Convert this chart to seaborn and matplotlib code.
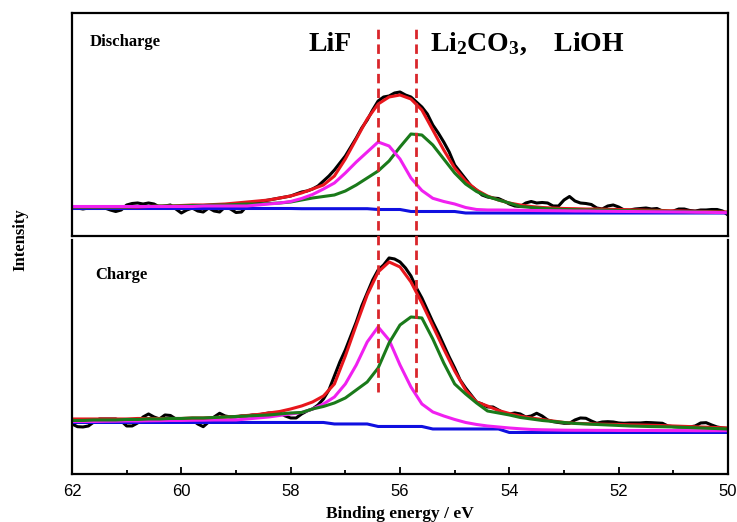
import numpy as np
import pandas as pd
import matplotlib
matplotlib.use("Agg")
import matplotlib.pyplot as plt
import matplotlib.transforms as mtransforms
from matplotlib.lines import Line2D
import seaborn as sns

# ---------------- data ----------------
be_fine = [62.0, 61.9, 61.8, 61.7, 61.6, 61.5, 61.4, 61.3, 61.2, 61.1,
           61.0, 60.9, 60.8, 60.7, 60.6, 60.5, 60.4, 60.3, 60.2, 60.1,
           60.0, 59.9, 59.8, 59.7, 59.6, 59.5, 59.4, 59.3, 59.2, 59.1,
           59.0, 58.9, 58.8, 58.7, 58.6, 58.5, 58.4, 58.3, 58.2, 58.1,
           58.0, 57.9, 57.8, 57.7, 57.6, 57.5, 57.4, 57.3, 57.2, 57.1,
           57.0, 56.9, 56.8, 56.7, 56.6, 56.5, 56.4, 56.3, 56.2, 56.1,
           56.0, 55.9, 55.8, 55.7, 55.6, 55.5, 55.4, 55.3, 55.2, 55.1,
           55.0, 54.9, 54.8, 54.7, 54.6, 54.5, 54.4, 54.3, 54.2, 54.1,
           54.0, 53.9, 53.8, 53.7, 53.6, 53.5, 53.4, 53.3, 53.2, 53.1,
           53.0, 52.9, 52.8, 52.7, 52.6, 52.5, 52.4, 52.3, 52.2, 52.1,
           52.0, 51.9, 51.8, 51.7, 51.6, 51.5, 51.4, 51.3, 51.2, 51.1,
           51.0, 50.9, 50.8, 50.7, 50.6, 50.5, 50.4, 50.3, 50.2, 50.1,
           50.0]

be_coarse = [62.0, 61.8, 61.6, 61.4, 61.2, 61.0, 60.8, 60.6, 60.4, 60.2,
             60.0, 59.8, 59.6, 59.4, 59.2, 59.0, 58.8, 58.6, 58.4, 58.2,
             58.0, 57.8, 57.6, 57.4, 57.2, 57.0, 56.8, 56.6, 56.4, 56.2,
             56.0, 55.8, 55.6, 55.4, 55.2, 55.0, 54.8, 54.6, 54.4, 54.2,
             54.0, 53.8, 53.6, 53.4, 53.2, 53.0, 52.8, 52.6, 52.4, 52.2,
             52.0, 51.8, 51.6, 51.4, 51.2, 51.0, 50.8, 50.6, 50.4, 50.2,
             50.0]

# Discharge panel
dis_raw = [29, 28, 27, 28, 29, 29, 28, 26, 24.5, 26,
           31, 32.5, 33, 32, 33, 32, 29, 30, 31, 27,
           23, 26, 28, 25, 24, 28, 25, 24, 29, 27,
           23.5, 24, 30, 33, 34, 35, 36, 37, 38, 39,
           40, 42, 44, 45, 47, 50, 55, 60, 66, 73,
           80, 89, 98, 108, 116, 126, 135, 139, 140, 143,
           144, 141, 139, 134, 129, 122, 111, 103, 94, 84,
           71, 64, 57, 50, 46, 41, 39, 38, 37.5, 35,
           32, 30, 29.5, 33, 34.5, 33, 33.5, 33, 30, 30,
           36, 39.5, 35, 33, 32.5, 31.5, 28, 27, 30, 31,
           29, 26, 26, 27, 27.5, 28, 27, 27.5, 25, 24,
           25, 27, 27, 25.5, 25, 26, 26, 26.5, 26.5, 25,
           21]
dis_fit = [29, 29, 29, 29, 29, 29, 29, 29.5, 30, 30,
           30.5, 31, 31, 31.5, 32, 33, 34, 35, 36, 38,
           40, 43, 47, 51, 60, 77, 97, 117, 132, 139,
           141, 137, 126, 106, 86, 68, 55, 46, 40, 36,
           33, 31, 29.5, 28.5, 28, 27.5, 27.3, 27, 27, 26.7,
           26.5, 26.2, 26, 25.7, 25.5, 25.2, 25, 24.7, 24.5, 24.2,
           24]
dis_li2co3 = [29, 29, 29, 29, 29, 29, 29.5, 29.5, 30, 30,
              30, 30.5, 30.5, 31, 31, 31.5, 32, 32, 32.5, 33,
              34, 36, 38, 39.5, 41, 45, 51, 58, 65, 75,
              89, 102, 101, 91, 77, 63, 52, 44.5, 39.5, 36,
              33, 29.5, 28.5, 27.7, 27, 26.5, 26.3, 26, 26, 25.8,
              25.5, 25.3, 25, 25, 24.8, 24.5, 24.3, 24.2, 24, 23.8,
              23.5]
dis_lif = [29.5, 29.5, 29.5, 29.5, 29.5, 29.5, 29.5, 29.5, 29.5, 29.5,
           29.5, 29.5, 30, 30, 30, 30, 30, 31, 32, 33,
           34.5, 37.5, 41.5, 47, 53, 63, 74, 84, 94, 90,
           77, 58, 45.5, 37.7, 34.5, 32, 28.5, 26.5, 26, 26,
           25.8, 25.7, 25.5, 25.4, 25.3, 25.2, 25, 25, 24.8, 24.7,
           24.6, 24.5, 24.4, 24.3, 24.2, 24.1, 24, 23.8, 23.7, 23.5,
           23.3]
dis_bg = [27.5, 27.5, 27.5, 27.5, 27.5, 27.5, 27.5, 27.5, 27.5, 27.5,
          27.5, 27.5, 27.5, 27.5, 27.5, 27.5, 27.5, 27.5, 27.5, 27.5,
          27.5, 27.3, 27.3, 27.3, 27.3, 27.3, 27.3, 27.3, 26.5, 26.5,
          26.5, 24.5, 24.5, 24.5, 24.5, 24.5, 23, 23, 23, 23,
          23, 23, 23, 23, 23, 23, 23, 23, 23, 23,
          23, 23, 23, 23, 23, 23, 23, 23, 23, 23,
          23]

# Charge panel
chg_raw = [50, 47.3, 47, 48, 52, 55, 55, 55, 55, 53,
           48, 48, 51, 57, 60, 57, 55, 59, 58.5, 55,
           55, 55, 54, 50, 47.3, 52, 57, 60.7, 58, 57,
           57, 58, 58, 59, 59, 60, 61, 61, 61, 58,
           56, 56, 60, 63, 65, 69, 75, 84, 98, 112,
           124, 138, 152, 168, 181, 194, 204, 209, 216, 215,
           212, 206, 198, 186, 176, 164, 152, 141, 129, 117,
           106, 94, 86, 79, 72, 70, 67, 67, 64, 61,
           60, 61, 60, 57, 58, 60.7, 58, 54, 52.3, 51.5,
           50.7, 50.7, 54, 56, 55.7, 53, 50.7, 52, 52.3, 52,
           51, 50.7, 51, 51, 51, 51.5, 51.3, 51, 50.7, 48,
           47.3, 47, 47, 47, 48, 51, 51.3, 49, 47, 46,
           45.5]
chg_fit = [55, 55, 55, 55, 55, 55, 55.5, 55.5, 55.5, 55.5,
           55.5, 56, 56, 56.5, 57, 57.5, 58.5, 59.5, 61, 62.5,
           65, 68, 72, 78, 90, 118, 149, 179, 202, 212,
           207, 192, 171, 148, 125, 103, 84, 72, 68, 63.5,
           60.5, 58, 56, 54.5, 53, 51.5, 50.7, 50.3, 50, 49.7,
           49.5, 49.2, 49, 48.7, 48.4, 48, 47.6, 47.2, 46.8, 46.4,
           46]
chg_li2co3 = [53.5, 53.5, 54, 54, 54, 54.5, 54.5, 55, 55, 55.5,
              55.5, 56, 56, 56.5, 57, 57.5, 58, 58.5, 59, 60,
              61, 61.5, 65, 67.5, 71, 76, 84, 92, 106, 131,
              149, 157, 156, 135, 111, 90, 80, 71, 63, 61,
              59, 56.5, 55, 53.5, 52.5, 51.5, 50.5, 50, 49.5, 49,
              48.5, 48, 47.7, 47.4, 47.2, 47, 46.6, 46.2, 45.8, 45.4,
              45]
chg_lif = [52.5, 52.5, 52.5, 52.7, 52.8, 53, 53, 53.2, 53.3, 53.5,
           53.5, 53.7, 53.8, 54, 54, 54, 55, 56, 57, 58.5,
           60, 61.5, 65, 70, 77, 90, 109, 132, 147, 134,
           109, 87, 70, 62, 58, 54.5, 51.5, 49.5, 48, 47,
           46, 45.2, 44.5, 44.2, 44, 43.8, 43.7, 43.7, 43.6, 43.6,
           43.5, 43.5, 43.5, 43.5, 43.4, 43.4, 43.4, 43.3, 43.3, 43.3,
           43.3]
chg_bg = [51.5, 51.5, 51.5, 51.5, 51.5, 51.5, 51.5, 51.5, 51.5, 51.5,
          51.5, 51.5, 51.5, 51.5, 51.5, 51.5, 51.5, 51.5, 51.5, 51.5,
          51.5, 51.5, 51.5, 51.5, 50, 50, 50, 50, 47.5, 47.5,
          47.5, 47.5, 47.5, 45, 45, 45, 45, 45, 45, 45,
          41.5, 41.5, 41.5, 41.5, 41.5, 41.5, 41.5, 41.5, 41.5, 41.5,
          41.5, 41.5, 41.5, 41.5, 41.5, 41.5, 41.5, 41.5, 41.5, 41.5,
          41.5]

ref_lines = [56.4, 55.7]          # LiF and Li2CO3/LiOH positions
major_ticks = [62, 60, 58, 56, 54, 52, 50]
minor_ticks = [61, 59, 57, 55, 53, 51]
tick_labels = ["62", "60", "58", "56", "54", "52", "50"]

# ---------------- style ----------------
sns.set_theme(style="white")
plt.rcParams["font.family"] = ["Liberation Serif", "DejaVu Serif"]
plt.rcParams["text.color"] = "black"
plt.rcParams["axes.labelcolor"] = "black"
plt.rcParams["xtick.color"] = "black"
plt.rcParams["mathtext.fontset"] = "custom"
plt.rcParams["mathtext.rm"] = "Liberation Serif:bold"
plt.rcParams["mathtext.it"] = "Liberation Serif:bold"
plt.rcParams["mathtext.bf"] = "Liberation Serif:bold"
plt.rcParams["mathtext.default"] = "rm"

colors = {"Raw": "#000000", "Background": "#1010e0", "Fit": "#e8161c",
          "LiF": "#f020f0", "Li2CO3/LiOH": "#1a7a1a"}


def panel_frame(raw, fit, li2co3, lif, bg):
    parts = [
        pd.DataFrame({"BE": be_fine, "I": raw, "curve": "Raw"}),
        pd.DataFrame({"BE": be_coarse, "I": bg, "curve": "Background"}),
        pd.DataFrame({"BE": be_coarse, "I": fit, "curve": "Fit"}),
        pd.DataFrame({"BE": be_coarse, "I": lif, "curve": "LiF"}),
        pd.DataFrame({"BE": be_coarse, "I": li2co3, "curve": "Li2CO3/LiOH"}),
    ]
    return pd.concat(parts, ignore_index=True)


fig = plt.figure(figsize=(7.37, 5.22), dpi=100)
ax_top = fig.add_axes([0.0977, 0.5479, 0.8901, 0.4272])
ax_bot = fig.add_axes([0.0977, 0.0920, 0.8901, 0.4483])

df_top = panel_frame(dis_raw, dis_fit, dis_li2co3, dis_lif, dis_bg)
df_bot = panel_frame(chg_raw, chg_fit, chg_li2co3, chg_lif, chg_bg)

sns.lineplot(data=df_top, x="BE", y="I", hue="curve",
             hue_order=["Raw", "Background", "Fit", "Li2CO3/LiOH", "LiF"],
             palette=colors, estimator=None, sort=False, legend=False,
             linewidth=2.2, ax=ax_top)
sns.lineplot(data=df_bot, x="BE", y="I", hue="curve",
             hue_order=["Raw", "Background", "LiF", "Fit", "Li2CO3/LiOH"],
             palette=colors, estimator=None, sort=False, legend=False,
             linewidth=2.2, ax=ax_bot)

for ax, ymax in ((ax_top, 223), (ax_bot, 234)):
    ax.set_xlim(62, 50)
    ax.set_ylim(0, ymax)
    ax.set_ylabel("")
    ax.set_xlabel("")
    ax.set_yticks([])
    for s in ax.spines.values():
        s.set_color("black")
        s.set_linewidth(1.6)

ax_top.set_xticks([])
ax_bot.spines["top"].set_visible(False)

ax_bot.set_xticks(major_ticks)
ax_bot.set_xticks(minor_ticks, minor=True)
ax_bot.set_xticklabels(tick_labels, fontsize=12,
                       family=["Liberation Sans Narrow", "Liberation Sans"])
ax_bot.tick_params(axis="x", which="major", direction="in", length=5,
                   width=1.3, pad=7, bottom=True, top=False)
ax_bot.tick_params(axis="x", which="minor", direction="in", length=3,
                   width=1.3, bottom=True, top=False)
ax_bot.set_xlabel("Binding energy / eV", fontsize=12.5, fontweight="bold",
                  labelpad=5)

ax_top.text(0.027, 0.87, "Discharge", transform=ax_top.transAxes,
            fontsize=12, fontweight="bold", va="center", ha="left")
ax_top.text(0.361, 0.83, "LiF", transform=ax_top.transAxes,
            fontsize=20, fontweight="bold", va="baseline", ha="left")
ax_top.text(0.546, 0.83, r"Li$_{2}$CO$_{3}$,    LiOH", transform=ax_top.transAxes,
            fontsize=20, fontweight="bold", va="baseline", ha="left")
ax_bot.text(0.035, 0.85, "Charge", transform=ax_bot.transAxes,
            fontsize=12, fontweight="bold", va="center", ha="left")

fig.text(0.027, 0.54, "Intensity", rotation=90, va="center", ha="center",
         fontsize=12, fontweight="bold")

trans = mtransforms.blended_transform_factory(ax_bot.transData, fig.transFigure)
for xv in ref_lines:
    fig.add_artist(Line2D([xv, xv], [0.249, 0.946], transform=trans,
                          color="#d9262b", linewidth=2.0, dashes=(3.4, 1.9),
                          zorder=10))

fig.savefig("out.png", dpi=100)
